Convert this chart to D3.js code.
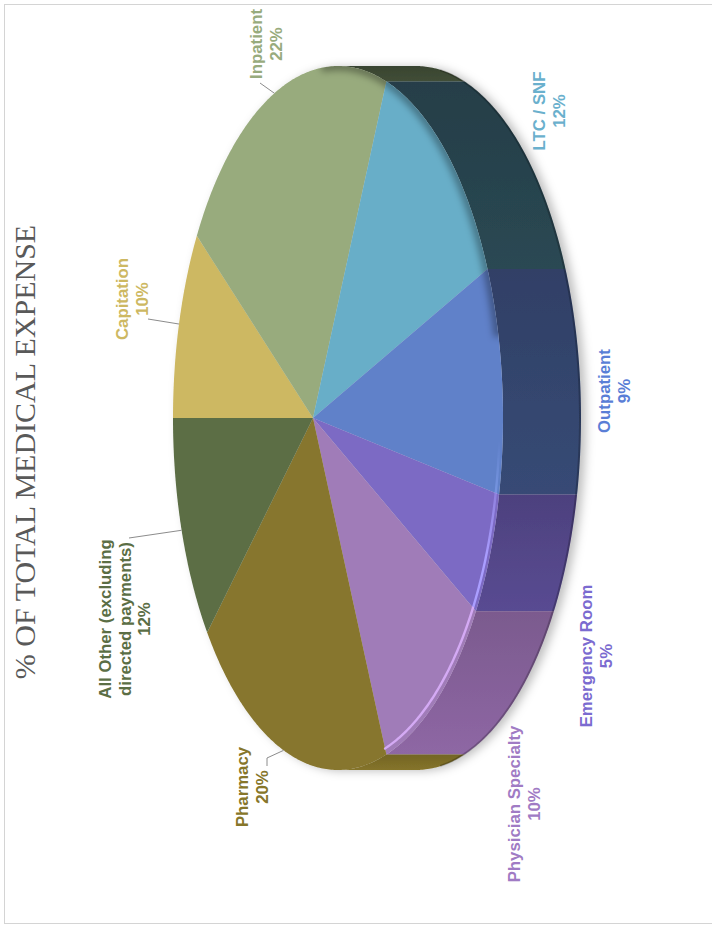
<!DOCTYPE html>
<html><head><meta charset="utf-8">
<script src="https://cdn.jsdelivr.net/npm/d3@7"></script>
<style>html,body{margin:0;padding:0;background:#fff;} svg{display:block;}</style>
</head><body>
<svg id="chart" width="712" height="928"></svg>
<script>
// ---------- data ----------
const categories = ["Capitation","Inpatient","LTC / SNF","Outpatient","Emergency Room","Physician Specialty","Pharmacy","All Other (excluding directed payments)"];
const values = [10,22,12,9,5,10,20,12];
const percentLabels = ["10%","22%","12%","9%","5%","10%","20%","12%"];
const titleText = "% OF TOTAL MEDICAL EXPENSE";

// ---------- styles ----------
const faceColors  = ["#CDB862","#98AB7D","#67AEC8","#6181C9","#7B6BC4","#A07BB8","#87762E","#5B6E45"];
const sideColors  = ["#6f6535","#3E4A34","#28444F","#34466F","#54478A","#87629B","#7E6E28","#333d27"];
const rimColors   = [null,null,null,"#93AEFF","#AA9EFF","#D4AAF4",null,null];
const labelColors = ["#CDB862","#98AB7D","#6AB0CD","#5A7ED6","#7B6BD0","#A07BC4","#86762A","#5B6E45"];
const labelSplit = {"All Other (excluding directed payments)": ["All Other (excluding","directed payments)"]};

// ---------- layout ----------
// perspective disc: projected centre (cx,cy), far/near radii give perspective factor k
const geo = {cx:313, cy:418, far:140, near:190, ry:352, depth:78};
geo.k = (geo.near-geo.far)/(geo.near+geo.far);
geo.A = geo.far*(1+geo.k);
geo.B = geo.ry*Math.sqrt(1-geo.k*geo.k);

const labelLayout = {
  "Capitation": {x:128, y:299, leader:[[148,319]]},
  "Inpatient": {x:262, y:44, leader:[[260,83]]},
  "LTC / SNF": {x:545, y:111},
  "Outpatient": {x:610, y:391},
  "Emergency Room": {x:592, y:656},
  "Physician Specialty": {x:520, y:804},
  "Pharmacy": {x:248, y:787, leader:[[267,766],[267,758]]},
  "All Other (excluding directed payments)": {x:111, y:619, leader:[[129,538]]}
};
const lineGap = 19.5;
const fontSize = 16.8;

const svg = d3.select("#chart");
const defs = svg.append("defs");

// border
svg.append("rect").attr("x",4.5).attr("y",4.5).attr("width",730).attr("height",919)
  .attr("fill","none").attr("stroke","#d4d4d4").attr("stroke-width",1);

// title
svg.append("text")
  .attr("transform","translate(35,452) rotate(-90)")
  .attr("text-anchor","middle")
  .attr("font-family","'Liberation Serif','Times New Roman',serif")
  .attr("font-size",30).attr("fill","#595959")
  .text(titleText);

// geometry helpers
const TAU = Math.PI*2;
const tScale = d3.scaleLinear().domain([0, TAU]).range([Math.PI, 3*Math.PI]);
function pt(t, dx=0, s=1){
  const c=Math.cos(t), sn=Math.sin(t), den=1-geo.k*c;
  return [geo.cx+dx+s*geo.A*c/den, geo.cy+s*geo.B*sn/den];
}
function arcPts(t0,t1,dx=0,s=1){
  const n=Math.max(2,Math.ceil(Math.abs(t1-t0)/0.01));
  return d3.range(n+1).map(i=>pt(t0+(t1-t0)*i/n,dx,s));
}
const line = d3.line();
const closed = pts => line(pts)+"Z";

const pie = d3.pie().sort(null).value(d=>d.value).startAngle(0).endAngle(TAU);
const data = categories.map((c,i)=>({cat:c, value:values[i], pct:percentLabels[i], i}));
const arcs = pie(data).map(a=>({...a, t0:tScale(a.startAngle), t1:tScale(a.endAngle), tm:tScale((a.startAngle+a.endAngle)/2)}));

// filters
const ds = defs.append("filter").attr("id","shadow").attr("x","-20%").attr("y","-20%").attr("width","140%").attr("height","140%");
ds.append("feDropShadow").attr("dx",5).attr("dy",1).attr("stdDeviation",5).attr("flood-color","#000").attr("flood-opacity",0.25);
const bl = defs.append("filter").attr("id","blur4").attr("x","-20%").attr("y","-20%").attr("width","140%").attr("height","140%");
bl.append("feGaussianBlur").attr("stdDeviation",3.5);
const bl1 = defs.append("filter").attr("id","blur1").attr("x","-20%").attr("y","-20%").attr("width","140%").attr("height","140%");
bl1.append("feGaussianBlur").attr("stdDeviation",0.7);

const pieG = svg.append("g").attr("filter","url(#shadow)");

// visible side: where the projected rim faces +x
const half = Math.acos(geo.k);
const visLo = TAU-half, visHi = TAU+half;
arcs.forEach(a=>{
  const lo=Math.max(a.t0,visLo), hi=Math.min(a.t1,visHi);
  if(hi<=lo) return;
  const gid="sg"+a.data.i;
  const base=d3.color(sideColors[a.data.i]);
  const g=defs.append("linearGradient").attr("id",gid).attr("x1",0).attr("y1",0).attr("x2",0).attr("y2",1);
  g.append("stop").attr("offset","0%").attr("stop-color",base.darker(0.25));
  g.append("stop").attr("offset","100%").attr("stop-color",base.brighter(0.15));
  const pts=arcPts(lo,hi,0).concat(arcPts(hi,lo,geo.depth));
  pieG.append("path").attr("d",closed(pts)).attr("fill",`url(#${gid})`);
});
pieG.append("path").attr("d",line(arcPts(visLo+0.15,visHi-0.15,geo.depth-1)))
  .attr("fill","none").attr("stroke","rgba(0,0,0,0.22)").attr("stroke-width",2);

// faces
arcs.forEach(a=>{
  const pts=[[geo.cx,geo.cy]].concat(arcPts(a.t0,a.t1));
  pieG.append("path").attr("d",closed(pts)).attr("fill",faceColors[a.data.i]);
});

// face effects clipped to face outline
defs.append("clipPath").attr("id","faceClip").append("path").attr("d",closed(arcPts(0,TAU)));
const fx = svg.append("g").attr("clip-path","url(#faceClip)");
fx.append("path").attr("d",line(arcPts(visLo-0.1, TAU-0.2)))
  .attr("fill","none").attr("stroke","#000").attr("stroke-opacity",0.35).attr("stroke-width",9).attr("filter","url(#blur4)");

// rim highlight (lower near edge)
const mg = defs.append("linearGradient").attr("id","hlm").attr("gradientUnits","userSpaceOnUse").attr("x1",0).attr("y1",440).attr("x2",0).attr("y2",560);
mg.append("stop").attr("offset",0).attr("stop-color","#fff").attr("stop-opacity",0);
mg.append("stop").attr("offset",1).attr("stop-color","#fff").attr("stop-opacity",1);
defs.append("mask").attr("id","hlMask").attr("maskUnits","userSpaceOnUse").attr("x",0).attr("y",0).attr("width",712).attr("height",928)
  .append("rect").attr("width",712).attr("height",928).attr("fill","url(#hlm)");
const hlG = svg.append("g").attr("mask","url(#hlMask)").attr("filter","url(#blur1)");
arcs.forEach(a=>{
  if(!rimColors[a.data.i]) return;
  const lo=Math.max(a.t0,TAU+0.02), hi=a.t1;
  if(hi<=lo) return;
  hlG.append("path").attr("d",line(arcPts(lo,hi,0,0.982)))
    .attr("fill","none").attr("stroke",rimColors[a.data.i]).attr("stroke-width",2.4).attr("stroke-linecap","round");
});

// leader lines
arcs.forEach(a=>{
  const L=labelLayout[a.data.cat];
  if(!L.leader) return;
  const pts=L.leader.concat([pt(a.tm)]);
  svg.append("path").attr("d",line(pts)).attr("fill","none").attr("stroke","#8c8c8c").attr("stroke-width",1);
});

// labels
arcs.forEach(a=>{
  const L=labelLayout[a.data.cat];
  const lines=(labelSplit[a.data.cat]||[a.data.cat]).concat([a.data.pct]);
  const g=svg.append("g").attr("transform",`translate(${L.x},${L.y}) rotate(-90)`);
  lines.forEach((s,k)=>{
    g.append("text").attr("x",0).attr("y",k*lineGap)
      .attr("text-anchor","middle")
      .attr("font-family","'Liberation Sans',Arial,sans-serif")
      .attr("font-weight","bold").attr("font-size",fontSize)
      .attr("fill",labelColors[a.data.i]).text(s);
  });
});
</script>
</body></html>
